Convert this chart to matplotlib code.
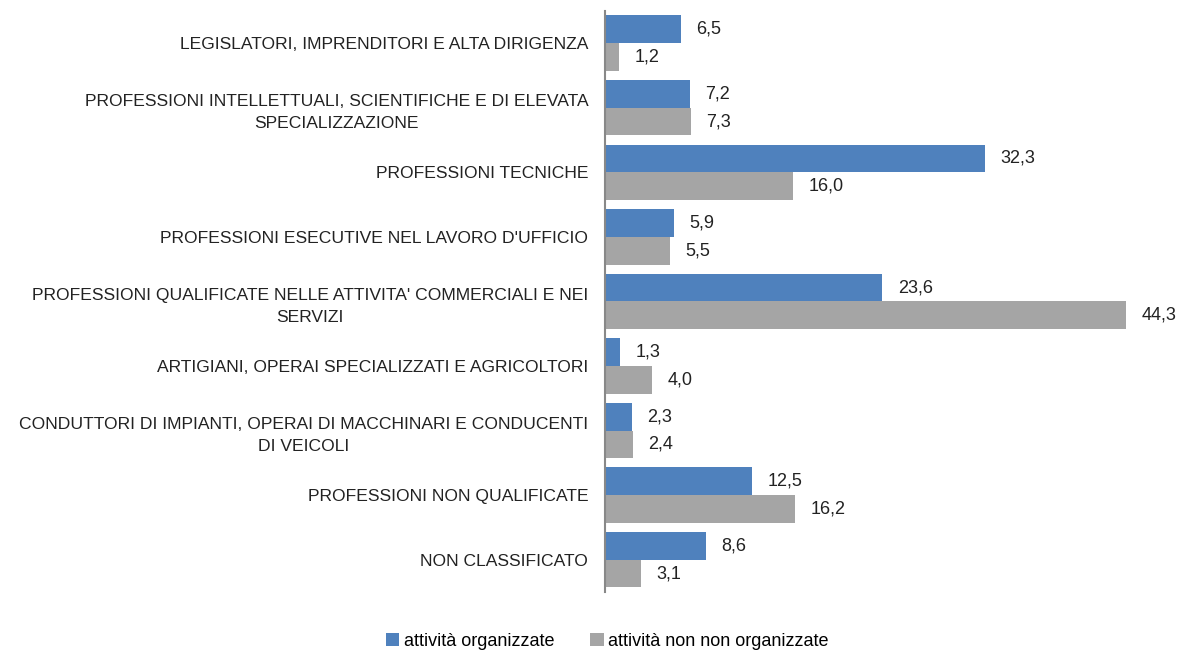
import matplotlib.pyplot as plt
import numpy as np

# Data
categories = [
    "LEGISLATORI, IMPRENDITORI E ALTA DIRIGENZA",
    "PROFESSIONI INTELLETTUALI, SCIENTIFICHE E DI ELEVATA\nSPECIALIZZAZIONE",
    "PROFESSIONI TECNICHE",
    "PROFESSIONI ESECUTIVE NEL LAVORO D'UFFICIO",
    "PROFESSIONI QUALIFICATE NELLE ATTIVITA' COMMERCIALI E NEI\nSERVIZI",
    "ARTIGIANI, OPERAI SPECIALIZZATI E AGRICOLTORI",
    "CONDUTTORI DI IMPIANTI, OPERAI DI MACCHINARI E CONDUCENTI\nDI VEICOLI",
    "PROFESSIONI NON QUALIFICATE",
    "NON CLASSIFICATO",
]
organizzate = [6.5, 7.2, 32.3, 5.9, 23.6, 1.3, 2.3, 12.5, 8.6]
non_organizzate = [1.2, 7.3, 16.0, 5.5, 44.3, 4.0, 2.4, 16.2, 3.1]
series_names = ["attività organizzate", "attività non non organizzate"]

plt.rcParams['font.family'] = ['Liberation Sans', 'DejaVu Sans']

fig = plt.figure(figsize=(11.79, 6.53), dpi=100)
ax = fig.add_axes([0.513, 0.0934, 0.479, 0.890])

y = np.arange(len(categories))
h = 0.43
blue = "#4F81BD"
gray = "#A5A5A5"

b1 = ax.barh(y - h / 2, organizzate, height=h, color=blue, label=series_names[0])
b2 = ax.barh(y + h / 2, non_organizzate, height=h, color=gray, label=series_names[1])

# value labels
for bars, vals in ((b1, organizzate), (b2, non_organizzate)):
    for bar, v in zip(bars, vals):
        ax.annotate(f"{v:.1f}".replace(".", ","),
                    xy=(bar.get_width(), bar.get_y() + bar.get_height() / 2),
                    xytext=(11, 0), textcoords="offset points",
                    va="center", ha="left", fontsize=13, color="#222222")

ax.set_xlim(0, 48)
ax.set_ylim(len(categories) - 0.5, -0.5)
ax.set_yticks(y)
ax.set_yticklabels(categories, fontsize=12.6, multialignment="center",
                   linespacing=1.6, color="#222222")
ax.tick_params(axis="y", length=0, pad=12)
ax.set_xticks([])

for s in ("top", "right", "bottom"):
    ax.spines[s].set_visible(False)
ax.spines["left"].set_color("#888888")
ax.spines["left"].set_linewidth(1.5)

fig.legend(handles=[b1, b2], loc="lower center", bbox_to_anchor=(0.515, -0.02),
           ncol=2, frameon=False, fontsize=13, handlelength=0.75, handleheight=0.75,
           handletextpad=0.25, columnspacing=2.0)

fig.savefig("out.png", dpi=100)
